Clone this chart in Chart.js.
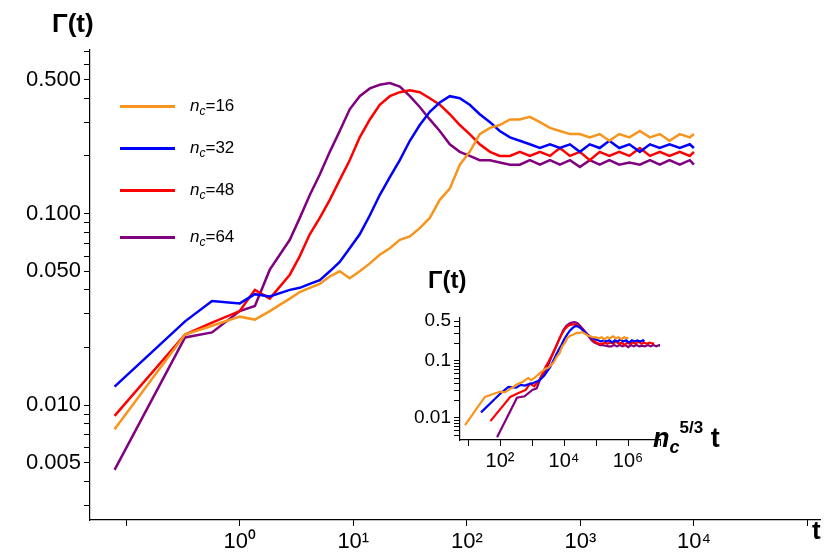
<!DOCTYPE html>
<html><head><meta charset="utf-8">
<script src="https://cdn.jsdelivr.net/npm/chart.js@4"></script>
<style>
body{margin:0;width:830px;height:556px;position:relative;background:#fff;font-family:"Liberation Sans",Arial,sans-serif;overflow:hidden}
#main{position:absolute;left:0;top:0}
#inset{position:absolute;left:400px;top:300px}
.lbl{position:absolute;font-weight:bold;color:#000}
.leg{position:absolute;font-size:17px}
.leg span.ln{display:inline-block;width:55px;height:3px;vertical-align:middle;margin-right:15px}
</style></head><body>
<canvas id="main" width="830" height="556"></canvas>
<canvas id="inset" width="270" height="185"></canvas>
<div class="lbl" style="left:52px;top:8px;font-size:26px">Γ(t)</div>
<div class="lbl" style="left:812px;top:515px;font-size:26px">t</div>
<div class="lbl" style="left:428px;top:266px;font-size:24px">Γ(t)</div>
<div class="lbl" style="left:653px;top:422px;font-size:27px"><i>n<sub style="font-size:18px">c</sub></i><sup style="font-size:17px;position:relative;top:-4px">5/3</sup> t</div>
<div id="legend"></div>
<script>
const T = [0.079,0.33,0.57,1,1.36,1.84,2.76,3.38,4.14,5.07,6.21,7.6,9.3,11.4,14,17.1,21,25.7,31.5,38.5,47.2,57.8,70.8,86.7,106,130,160,195,240,293,359,440,540,660,810,990,1210,1480,1800,2200,2700,3340,4100,5000,6100,7500,9200,10000];
const nc = [16,32,48,64];
const colors = ['#f7941d','#0000ff','#ff0000','#800080'];
const g16 = [0.0075,0.0234,0.026,0.029,0.028,0.031,0.036,0.039,0.041,0.043,0.047,0.050,0.046,0.050,0.055,0.061,0.066,0.073,0.076,0.084,0.095,0.118,0.135,0.18,0.21,0.26,0.28,0.29,0.31,0.31,0.32,0.30,0.28,0.27,0.26,0.26,0.25,0.26,0.24,0.26,0.25,0.27,0.25,0.26,0.24,0.26,0.25,0.26];
const g32 = [0.0125,0.0274,0.035,0.034,0.038,0.037,0.040,0.041,0.043,0.045,0.050,0.056,0.066,0.078,0.098,0.125,0.155,0.19,0.24,0.29,0.34,0.38,0.41,0.40,0.37,0.33,0.30,0.27,0.25,0.24,0.23,0.22,0.23,0.22,0.23,0.21,0.23,0.22,0.24,0.22,0.23,0.21,0.23,0.22,0.23,0.22,0.23,0.22];
const g48 = [0.0088,0.0234,0.027,0.031,0.040,0.036,0.048,0.060,0.078,0.095,0.118,0.15,0.19,0.25,0.31,0.37,0.41,0.43,0.44,0.43,0.40,0.37,0.33,0.29,0.26,0.23,0.21,0.20,0.20,0.21,0.20,0.21,0.20,0.22,0.20,0.21,0.19,0.21,0.20,0.21,0.20,0.22,0.20,0.21,0.20,0.21,0.20,0.21];
const g64 = [0.0046,0.0226,0.024,0.031,0.033,0.051,0.073,0.095,0.125,0.16,0.21,0.27,0.35,0.41,0.45,0.47,0.48,0.46,0.41,0.36,0.31,0.27,0.23,0.21,0.20,0.19,0.19,0.185,0.18,0.18,0.19,0.18,0.19,0.18,0.19,0.175,0.19,0.18,0.19,0.18,0.185,0.18,0.19,0.18,0.19,0.18,0.19,0.18];
const series = [g16,g32,g48,g64];
const yMajor = [0.005,0.01,0.05,0.1,0.5];
const yLabels = ['0.005','0.010','0.050','0.100','0.500'];
const xMajorLabels = {0:'10⁰',1:'10¹',2:'10²',3:'10³',4:'10⁴'};
const insetYMajor = [0.01,0.1,0.5];
const insetYLabels = ['0.01','0.1','0.5'];
const insetXLabels = {2:'10²',4:'10⁴',6:'10⁶'};

function logTicks(min,max,minor){const a=[];for(let e=Math.floor(Math.log10(min));e<=Math.ceil(Math.log10(max));e++)for(let m=1;m<10;m++){if(!minor&&m>1)continue;const v=m*Math.pow(10,e);if(v>=min&&v<=max)a.push({value:v});}return a;}
function isPow(v){const l=Math.log10(v);return Math.abs(l-Math.round(l))<1e-9;}

function makeChart(id,xmin,xmax,ymin,ymax,xscale,yM,yL,xL,pad,yW,xH,fs,yfs,lw){
  const datasets = series.map((s,i)=>({data:s.map((v,k)=>({x:T[k]*xscale[i],y:v})),borderColor:colors[i],borderWidth:lw,pointRadius:0,fill:false,tension:0}));
  new Chart(document.getElementById(id),{type:'line',data:{datasets},options:{
    responsive:false,animation:false,layout:{padding:pad},
    plugins:{legend:{display:false},tooltip:{enabled:false}},
    scales:{
      x:{type:'logarithmic',min:xmin,max:xmax,border:{color:'#000',width:1.2},
        grid:{drawOnChartArea:false,tickLength:6,color:'#000'},
        afterBuildTicks:ax=>{ax.ticks=logTicks(xmin,xmax,false);},
        afterFit:ax=>{ax.height=xH;},
        ticks:{autoSkip:false,maxRotation:0,color:'#000',font:{size:fs,family:'Liberation Sans'},
          callback:v=>{if(!isPow(v))return '';const e=Math.round(Math.log10(v));return xL[e]||'';}}},
      y:{type:'logarithmic',min:ymin,max:ymax,border:{color:'#000',width:1.2},
        grid:{drawOnChartArea:false,tickLength:6,color:'#000'},
        afterBuildTicks:ax=>{ax.ticks=logTicks(ymin,ymax,true);},
        afterFit:ax=>{ax.width=yW;},
        ticks:{autoSkip:false,color:'#000',font:{size:yfs,family:'Liberation Sans'},
          callback:v=>{const i=yM.findIndex(m=>Math.abs(m-v)/m<1e-6);return i>=0?yL[i]:'';}}}
    }}});
}
makeChart('main',0.048,1.29e5,0.00252,0.714,[1,1,1,1],yMajor,yLabels,xMajorLabels,{top:50,right:10,left:0,bottom:0},90,36,22,22,2.5);
const sc = nc.map(n=>Math.pow(n,5/3));
makeChart('inset',5.6,1e7,0.0041,0.567,sc,insetYMajor,insetYLabels,insetXLabels,{top:18,right:10,left:0,bottom:0},60,45,20,19,2.2);

const leg=document.getElementById('legend');
const ly=[96,138,180,227];
nc.forEach((n,i)=>{const d=document.createElement('div');d.className='leg';d.style.left='120px';d.style.top=ly[i]+'px';
 d.innerHTML='<span class="ln" style="background:'+colors[i]+'"></span><i>n</i><sub style="font-size:12px"><i>c</i></sub>='+n;leg.appendChild(d);});
</script>
</body></html>
